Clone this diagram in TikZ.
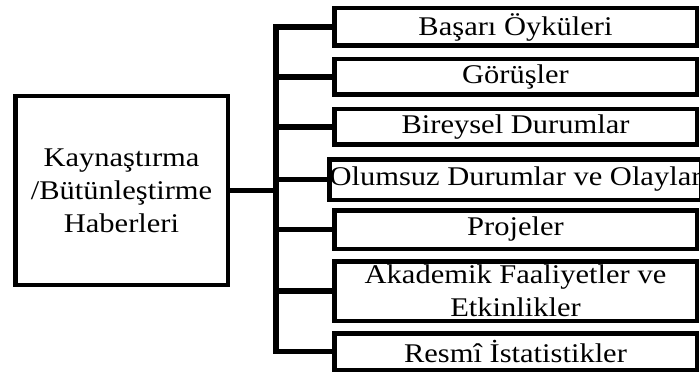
\documentclass[tikz,border=0pt]{standalone}
\usepackage{fontspec}
\setmainfont{Liberation Serif}[FakeStretch=1.13]
\tikzset{
  box/.style={draw=black, line width=4.5pt, fill=white, inner sep=0pt, align=center,
    font=\fontsize{27}{33}\selectfont},
  rbox/.style={box, minimum width=362.5pt},
  link/.style={draw=black, line width=5.5pt}
}
\begin{document}
\begin{tikzpicture}[x=1pt,y=-1pt]
\useasboundingbox (0,0) rectangle (700,374);
\node[box, minimum width=212.5pt, minimum height=188.5pt] (L) at (121.5,190.5)
  {Kaynaştırma\\/Bütünleştirme\\Haberleri};
\node[rbox, minimum height=37.5pt] (b1) at (515.5,27) {Başarı Öyküleri};
\node[rbox, minimum height=35.5pt] (b2) at (515.5,77) {Görüşler};
\node[rbox, minimum height=35.5pt] (b3) at (515.5,127) {Bireysel Durumlar};
\node[rbox, minimum height=40.5pt] (b4) at (515.5,179.5) {Olumsuz Durumlar ve Olaylar};
\node[rbox, minimum height=38.5pt] (b5) at (515.5,229.5) {Projeler};
\node[rbox, minimum height=59.5pt] (b6) at (515.5,291) {Akademik Faaliyetler ve\\Etkinlikler};
\node[rbox, minimum height=36.5pt] (b7) at (515.5,351.5) {Resmî İstatistikler};
\coordinate (tr) at (276,0);
\draw[link] (b1.west) -- (b1.west -| tr) -- (b7.west -| tr) -- (b7.west);
\foreach \b in {b2,b3,b4,b5,b6} \draw[link] (\b.west -| tr) -- (\b.west);
\draw[link] (L.east) -- (L.east -| tr);
\end{tikzpicture}
\end{document}
